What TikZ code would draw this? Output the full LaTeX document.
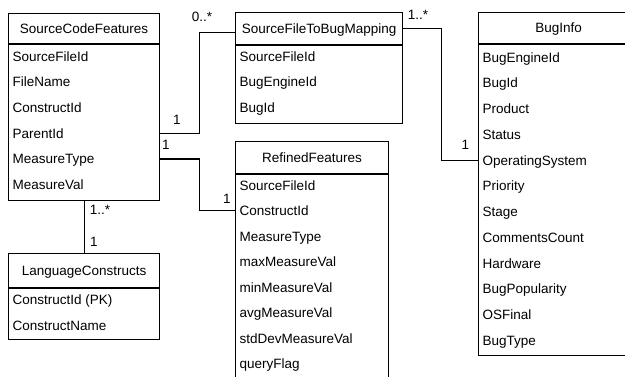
\documentclass[tikz,border=0pt]{standalone}
\usepackage{fontspec}
\setmainfont{Liberation Sans}
\usetikzlibrary{calc}

\tikzset{
	head/.style={draw, anchor=north west, inner sep=0pt, text height=9.7pt, text depth=0pt},
	body/.style={draw, anchor=north west, inner sep=0pt},
	field/.style={anchor=west, inner sep=0pt, text height=9.7pt, text depth=0pt},
	card/.style={anchor=base, inner sep=0pt}
}

\begin{document}
\begin{tikzpicture}[x=1pt, y=-1pt, line width=1.2pt, font=\fontsize{13.5}{16}\selectfont]
	\useasboundingbox (0,0) rectangle (625,377);
	\clip (0,0) rectangle (625,377);

	% SourceCodeFeatures
	\node (features) [head, minimum width=151, minimum height=30] at (8,13) {SourceCodeFeatures};
	\node (featuresbody) [body, minimum width=151, minimum height=156] at (features.south west) {};
	\foreach \f [count=\i] in {SourceFileId, FileName, ConstructId, ParentId, MeasureType, MeasureVal}
		\node (features-\i) [field] at ($(featuresbody.north west)+(4,{12+25.7*(\i-1)})$) {\f};

	% SourceFileToBugMapping
	\node (mapping) [head, minimum width=167, minimum height=32] at (235,12) {SourceFileToBugMapping};
	\node (mappingbody) [body, minimum width=167, minimum height=78] at (mapping.south west) {};
	\foreach \f [count=\i] in {SourceFileId, BugEngineId, BugId}
		\node (mapping-\i) [field] at ($(mappingbody.north west)+(4,{11+25.7*(\i-1)})$) {\f};

	% RefinedFeatures
	\node (refined) [head, minimum width=153, minimum height=32] at (235,141) {RefinedFeatures};
	\node (refinedbody) [body, minimum width=153, minimum height=230] at (refined.south west) {};
	\foreach \f [count=\i] in {SourceFileId, ConstructId, MeasureType, maxMeasureVal, minMeasureVal, avgMeasureVal, stdDevMeasureVal, queryFlag}
		\node (refined-\i) [field] at ($(refinedbody.north west)+(4,{11+25.5*(\i-1)})$) {\f};

	% BugInfo
	\node (buginfo) [head, minimum width=160, minimum height=31] at (478,12) {BugInfo};
	\node (buginfobody) [body, minimum width=160, minimum height=311] at (buginfo.south west) {};
	\foreach \f [count=\i] in {BugEngineId, BugId, Product, Status, OperatingSystem, Priority, Stage, CommentsCount, Hardware, BugPopularity, OSFinal, BugType}
		\node (buginfo-\i) [field] at ($(buginfobody.north west)+(4,{13+25.75*(\i-1)})$) {\f};

	% LanguageConstructs
	\node (constructs) [head, minimum width=151, minimum height=34] at (8,253) {LanguageConstructs};
	\node (constructsbody) [body, minimum width=151, minimum height=51] at (constructs.south west) {};
	\foreach \f [count=\i] in {ConstructId (PK), ConstructName}
		\node (constructs-\i) [field] at ($(constructsbody.north west)+(4,{11+26*(\i-1)})$) {\f};

	% relations
	\draw (featuresbody.east |- features-4) -- ++(39,0) |- ([yshift=-4pt]mapping.west);
	\draw (featuresbody.east |- features-5) -- ++(39,0) |- (refinedbody.west |- refined-2);
	\draw (mapping.east) -- ++(38,0) |- (buginfobody.west |- buginfo-5);
	\draw (featuresbody.south) -- (constructs.north);

	% multiplicities
	\node (cardparent) [card] at (177,125) {1};
	\node (cardmapping) [card] at (202,21.5) {0..*};
	\node (cardmeasure) [card] at (166,150) {1};
	\node (cardrefined) [card] at (227,204) {1};
	\node (cardmapout) [card] at (418,20) {1..*};
	\node (cardbuginfo) [card] at (465.5,150) {1};
	\node (cardfeatures) [card] at (100,215) {1..*};
	\node (cardconstructs) [card] at (94,247) {1};
\end{tikzpicture}
\end{document}
